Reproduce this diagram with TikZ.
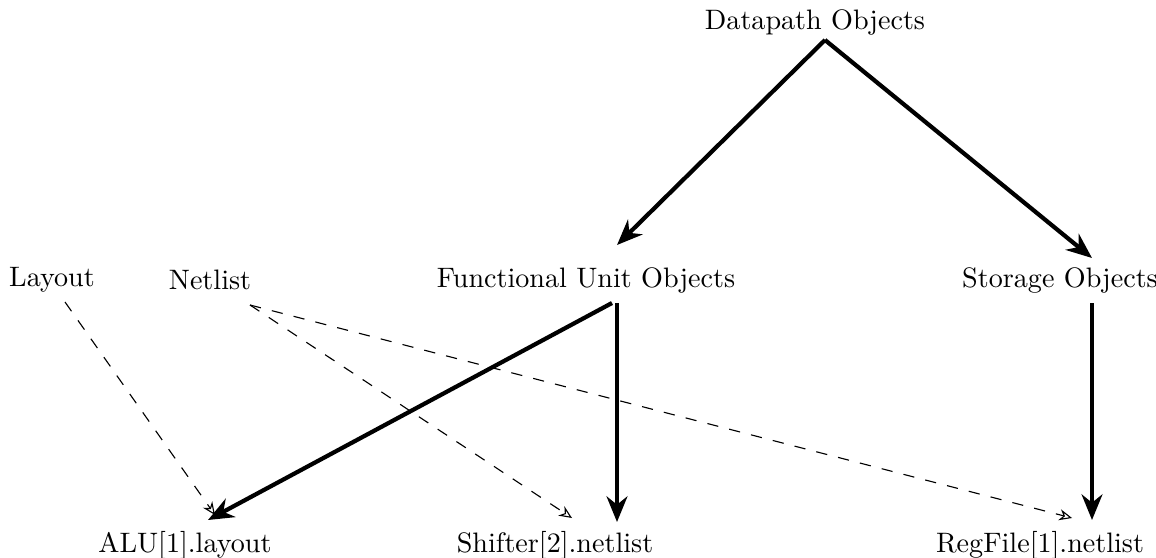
\documentclass[tikz,border=0pt]{standalone}
\usepackage{tikz}
\usetikzlibrary{arrows.meta,calc}

\begin{document}
\begin{tikzpicture}[
  x=0.0125cm, y=-0.0125cm,
  every node/.style={font=\fontsize{10}{12}\selectfont,inner sep=0pt},
  objarr/.style={-{Stealth[length=3.2mm,width=2.6mm]},line width=1.5pt},
  viewarr/.style={-{Stealth[open,length=1.6mm,width=1.4mm]},line width=0.4pt,dash pattern=on 4pt off 4pt}
]
\useasboundingbox (0,0) rectangle (1156,558);
\node (dp) at (815,22) {Datapath Objects};
\node (fu) at (586,280) {Functional Unit Objects};
\node (st) at (1060,280) {Storage Objects};
\node (lay) at (52,280) {Layout};
\node (net) at (210,280) {Netlist};
\node (alu) at (185,545) {ALU[1].layout};
\node (shf) at (555,545) {Shifter[2].netlist};
\node (reg) at (1040,545) {RegFile[1].netlist};

\draw[objarr] ($(dp)+(10,18)$) -- ($(fu)+(31,-35)$);
\draw[objarr] ($(dp)+(10,18)$) -- ($(st)+(32,-22)$);
\draw[objarr] ($(fu)+(26,23)$) -- ($(alu)+(23,-25)$);
\draw[objarr] ($(fu)+(31,23)$) -- ($(shf)+(62,-23)$);
\draw[objarr] ($(st)+(32,23)$) -- ($(reg)+(52,-25)$);

\draw[viewarr] ($(lay)+(13,22)$) -- ($(alu)+(30,-30)$);
\draw[viewarr] ($(net)+(40,25)$) -- ($(shf)+(17,-27)$);
\draw[viewarr] ($(net)+(40,25)$) -- ($(reg)+(32,-27)$);
\end{tikzpicture}
\end{document}
